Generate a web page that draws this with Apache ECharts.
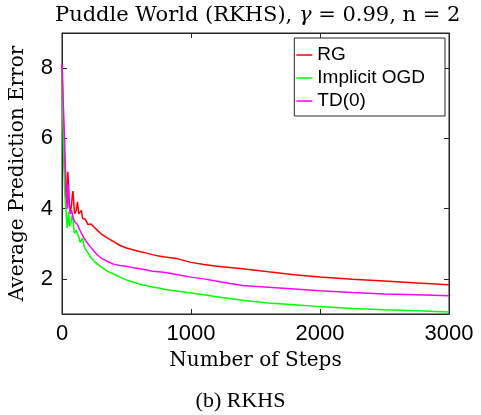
<!DOCTYPE html>
<html>
<head>
<meta charset="utf-8">
<script src="https://cdn.jsdelivr.net/npm/echarts@6/dist/echarts.min.js"></script>
<style>html,body{margin:0;padding:0;background:#fff;}#c{width:481px;height:415px;}</style>
</head>
<body>
<div id="c"></div>
<script>
// ---- data ----
var steps = [0,5,10,15,20,25,30,35,40,45,50,55,60,65,70,75,80,85,90,95,100,
  110,120,130,140,150,160,170,180,190,200,
  225,250,275,300,
  350,400,450,500,550,600,650,700,750,800,
  900,1000,1100,1200,
  1400,1600,1800,2000,
  2250,2500,2750,3000];
var rgValues = [8.1,7.2,6.4,5.7,5.1,4.6,4.3,4.5,4.85,5.05,4.7,4.3,4.0,3.87,3.9,4.15,4.4,4.5,4.25,3.95,3.86,
  3.95,4.19,3.85,3.8,3.95,3.72,3.67,3.7,3.73,3.55,
  3.56,3.47,3.38,3.29,
  3.17,3.06,2.95,2.88,2.83,2.78,2.74,2.69,2.65,2.62,
  2.57,2.47,2.41,2.36,
  2.29,2.2,2.12,2.05,
  1.99,1.94,1.88,1.83];
var ogdValues = [8.0,6.9,6.0,5.2,4.6,4.2,4.0,3.95,3.45,3.6,3.9,3.7,3.5,3.47,3.6,3.75,3.81,3.7,3.5,3.3,3.28,
  3.38,3.42,3.2,3.04,3.1,3.16,2.95,2.85,2.8,2.75,
  2.6,2.5,2.42,2.35,
  2.22,2.14,2.05,1.97,1.91,1.85,1.81,1.77,1.74,1.7,
  1.65,1.6,1.55,1.49,
  1.39,1.31,1.26,1.21,
  1.16,1.12,1.09,1.06];
var tdValues = [8.1,7.6,7.0,6.5,6.0,5.4,4.8,4.3,4.0,4.7,4.5,4.1,3.95,3.85,3.8,3.95,3.85,3.76,3.7,3.65,3.62,
  3.62,3.55,3.45,3.4,3.3,3.24,3.17,3.12,3.05,3.0,
  2.89,2.78,2.68,2.6,
  2.5,2.42,2.38,2.36,2.32,2.29,2.26,2.22,2.2,2.18,
  2.12,2.05,2.0,1.93,
  1.81,1.76,1.71,1.66,
  1.61,1.57,1.55,1.52];
var seriesNames = ['RG','Implicit OGD','TD(0)'];
var seriesColors = ['#ff0000','#00ff00','#ff00ff'];
var xTicks = [0,1000,2000,3000];
var yTicks = [2,4,6,8];

function pairs(vals){ return steps.map(function(s,i){ return [s, vals[i]]; }); }

var axisColor = '#262626';
var chart = echarts.init(document.getElementById('c'), null, {renderer:'canvas'});
var allVals = [rgValues, ogdValues, tdValues];
function boxAxisX(extra){
  return Object.assign({
    type:'value', min:0, max:3000, interval:1000,
    axisLine:{show:true, onZero:false, lineStyle:{color:axisColor, width:1}},
    axisTick:{show:true, inside:true, length:5, customValues:xTicks, lineStyle:{color:axisColor}},
    splitLine:{show:false}
  }, extra);
}
function boxAxisY(extra){
  return Object.assign({
    type:'value', min:1, max:9,
    axisLine:{show:true, onZero:false, lineStyle:{color:axisColor, width:1}},
    axisTick:{show:true, inside:true, length:5, customValues:yTicks, lineStyle:{color:axisColor}},
    splitLine:{show:false}
  }, extra);
}
var series = seriesNames.map(function(n,i){
  return {name:n, type:'line', data:pairs(allVals[i]), showSymbol:false, symbol:'none',
    xAxisIndex:0, yAxisIndex:0, color:seriesColors[i],
    lineStyle:{color:seriesColors[i], width:1.5}};
});
// invisible helper so the top/right box axes are laid out and drawn
series.push({name:'_box', type:'line', data:[], xAxisIndex:1, yAxisIndex:1, silent:true,
  showSymbol:false, lineStyle:{opacity:0}});
chart.setOption({
  animation:false,
  backgroundColor:'#fff',
  title:[{
    text:'Puddle World (RKHS), {g|γ} = 0.99, n = 2',
    left:50, top:0,
    textStyle:{fontFamily:'DejaVu Serif', fontSize:21, fontWeight:'normal', color:'#000',
      rich:{g:{fontFamily:'DejaVu Serif', fontSize:21, fontStyle:'italic', color:'#000'}}}
  },{
    text:'(b) RKHS', left:'center', top:385,
    textStyle:{fontFamily:'Liberation Serif', fontSize:22, fontWeight:'normal', color:'#000'}
  }],
  legend:{
    data:seriesNames, orient:'vertical', right:36, top:38,
    icon:'rect', itemWidth:16, itemHeight:1.5, itemGap:3,
    padding:[7,20,5,2],
    backgroundColor:'#fff', borderColor:axisColor, borderWidth:1,
    textStyle:{fontFamily:'Liberation Sans', fontSize:19, color:'#000', lineHeight:20}
  },
  grid:{left:62, top:33, right:32, bottom:101, show:true, borderColor:axisColor, borderWidth:1, backgroundColor:'transparent'},
  xAxis:[boxAxisX({
    name:'Number of Steps', nameLocation:'middle', nameGap:37,
    nameTextStyle:{fontFamily:'DejaVu Serif', fontSize:20, color:'#000'},
    axisLabel:{fontFamily:'Liberation Sans', fontSize:22, color:'#000', margin:9, customValues:xTicks,
      formatter:function(v){ return String(v); }}
  }), boxAxisX({position:'top', axisLabel:{show:false}})],
  yAxis:[boxAxisY({
    name:'Average Prediction Error', nameLocation:'middle', nameGap:34,
    nameTextStyle:{fontFamily:'DejaVu Serif', fontSize:20, color:'#000'},
    axisLabel:{fontFamily:'Liberation Sans', fontSize:22, color:'#000', margin:9, customValues:yTicks,
      formatter:function(v){ return String(v); }}
  }), boxAxisY({position:'right', axisLabel:{show:false}})],
  series: series
});
</script>
</body>
</html>
